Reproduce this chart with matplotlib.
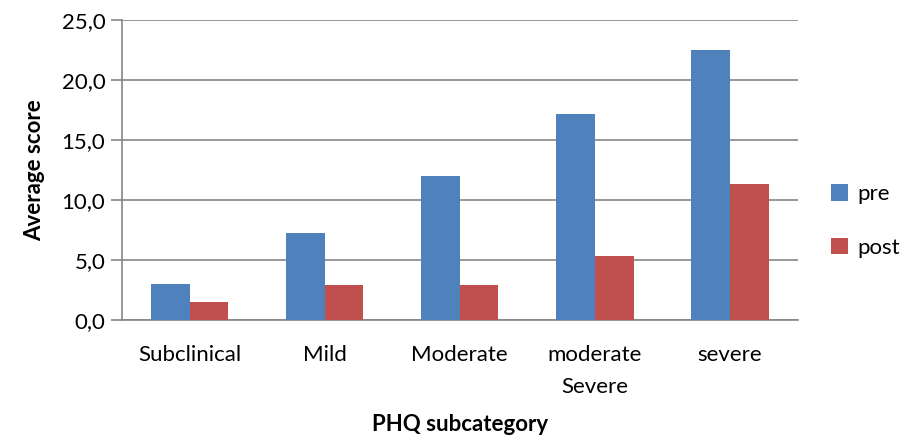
import matplotlib
matplotlib.use("Agg")
from matplotlib import pyplot as plt
import numpy as np

categories = ["Subclinical", "Mild", "Moderate", "moderate\nSevere", "severe"]
pre = [3.0, 7.25, 12.0, 17.2, 22.5]
post = [1.5, 2.9, 2.9, 5.3, 11.3]

plt.rcParams['font.family'] = ['Lato', 'DejaVu Sans']

fig = plt.figure(figsize=(9.13, 4.40), dpi=100)
ax = fig.add_axes([0.1336, 0.2727, 0.74, 0.6818])

x = np.arange(len(categories))
w = 1 / 3.5  # gap width 150%
ax.bar(x - w / 2, pre, w, color='#4F81BD', label='pre', zorder=3)
ax.bar(x + w / 2, post, w, color='#C0504D', label='post', zorder=3)

ax.set_xlim(-0.5, len(categories) - 0.5)
ax.set_ylim(0, 25)
ax.set_yticks(np.arange(0, 26, 5))
ax.set_yticklabels([f"{v:.1f}".replace('.', ',') for v in np.arange(0, 26, 5)])
ax.set_xticks(x)
ax.set_xticklabels(categories, linespacing=1.75, va='top')

ax.grid(axis='y', color='#868686', linewidth=1.2, zorder=0)
for s in ['top', 'right']:
    ax.spines[s].set_visible(False)
for s in ['left', 'bottom']:
    ax.spines[s].set_color('#868686')
    ax.spines[s].set_linewidth(1.2)

ax.tick_params(axis='y', length=8, width=1.2, color='#868686', labelsize=16, pad=4)
ax.tick_params(axis='x', length=0, labelsize=16, pad=18)

ax.set_ylabel("Average score", fontsize=16, fontweight='bold', labelpad=12)
ax.set_xlabel("PHQ subcategory", fontsize=16, fontweight='bold', labelpad=12)

ax.legend(loc='center left', bbox_to_anchor=(1.02, 0.33), frameon=False,
          fontsize=16, handlelength=0.75, handleheight=0.75, handletextpad=0.45,
          labelspacing=1.5)

fig.savefig("out.png", dpi=100)
